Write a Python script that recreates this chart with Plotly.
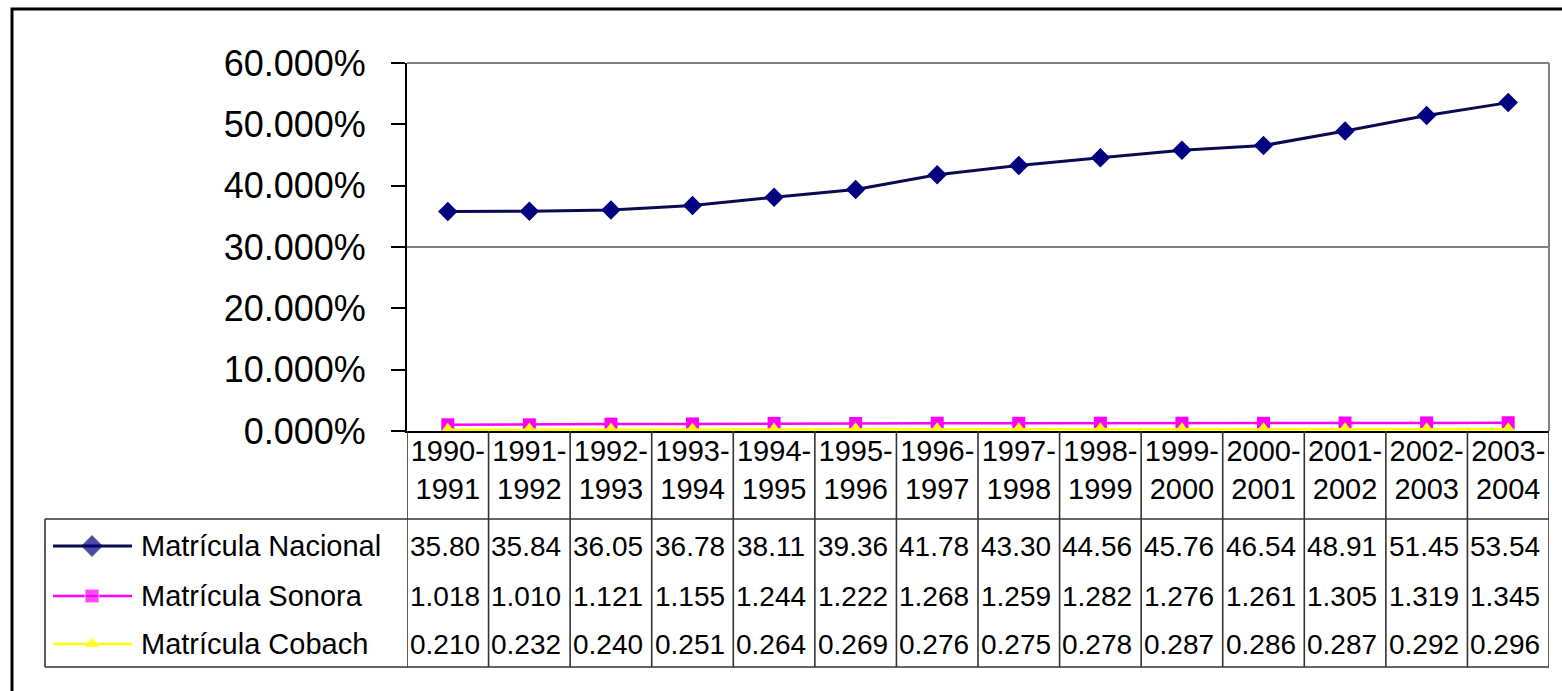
import plotly.graph_objects as go

# ---------------- data ----------------
categories = ["1990-1991", "1991-1992", "1992-1993", "1993-1994", "1994-1995",
              "1995-1996", "1996-1997", "1997-1998", "1998-1999", "1999-2000",
              "2000-2001", "2001-2002", "2002-2003", "2003-2004"]
nacional = [35.80, 35.84, 36.05, 36.78, 38.11, 39.36, 41.78, 43.30, 44.56, 45.76,
            46.54, 48.91, 51.45, 53.54]
sonora = [1.018, 1.010, 1.121, 1.155, 1.244, 1.222, 1.268, 1.259, 1.282, 1.276,
          1.261, 1.305, 1.319, 1.345]
cobach = [0.210, 0.232, 0.240, 0.251, 0.264, 0.269, 0.276, 0.275, 0.278, 0.287,
          0.286, 0.287, 0.292, 0.296]
series_names = ["Matrícula Nacional", "Matrícula Sonora", "Matrícula Cobach"]
y_ticks = [0, 10, 20, 30, 40, 50, 60]
y_tick_labels = ["0.000%", "10.000%", "20.000%", "30.000%", "40.000%", "50.000%", "60.000%"]

# ---------------- styles ----------------
W, H = 1562, 691
FONT = "Liberation Sans, Arial, sans-serif"
styles = [
    dict(color="#000080", line="#0a0a50", symbol="diamond", size=15, width=3, fmt="{:.2f}"),
    dict(color="#FF00FF", line="#FF00FF", symbol="square", size=13, width=2.5, fmt="{:.3f}"),
    dict(color="#FFFF00", line="#FFFF00", symbol="triangle-up", size=14, width=2.5, fmt="{:.3f}"),
]
series = [nacional, sonora, cobach]

def px(x):
    return x / W

def py(y):
    return 1 - y / H

PL, PR, PT, PB = 407, 1549, 63, 431   # plot area in pixels
TABLE_TOP, TABLE_BOT, TABLE_LEFT = 519, 667, 45
ROW_Y = [546, 596, 644]

fig = go.Figure()
xs = list(range(len(categories)))

for s, st, name in zip(series, styles, series_names):
    fig.add_trace(go.Scatter(
        x=xs, y=s, name=name, mode="lines+markers",
        line=dict(color=st["line"], width=st["width"]),
        marker=dict(symbol=st["symbol"], size=st["size"], color=st["color"]),
        cliponaxis=False, showlegend=False, xaxis="x", yaxis="y",
    ))

# legend samples inside the data table (pixel overlay axes)
for i, st in enumerate(styles):
    fig.add_trace(go.Scatter(
        x=[53, 92, 132], y=[ROW_Y[i]] * 3, mode="lines+markers",
        line=dict(color=st["line"], width=st["width"]),
        marker=dict(symbol=st["symbol"], size=[0, st["size"] + 1, 0], color=st["color"]),
        showlegend=False, xaxis="x2", yaxis="y2", hoverinfo="skip",
    ))

shapes = []
# outer chart border
shapes.append(dict(type="rect", xref="x2", yref="y2", x0=12, x1=1600, y0=9, y1=760,
                   line=dict(color="black", width=3), layer="above"))
# plot area top / right border (gray)
shapes.append(dict(type="line", xref="x2", yref="y2", x0=PL, x1=PR, y0=PT, y1=PT,
                   line=dict(color="#808080", width=2)))
shapes.append(dict(type="line", xref="x2", yref="y2", x0=PR, x1=PR, y0=PT, y1=PB,
                   line=dict(color="#808080", width=2)))
# gridline at 30%
shapes.append(dict(type="line", xref="x domain", yref="y", x0=0, x1=1, y0=30, y1=30,
                   line=dict(color="black", width=1.2), layer="below"))
# table vertical lines at category boundaries
for i in range(len(categories) + 1):
    shapes.append(dict(type="line", xref="x", yref="y2", x0=i - 0.5, x1=i - 0.5,
                       y0=PB, y1=TABLE_BOT, line=dict(color="#333333", width=1.6)))
# table horizontal lines & left edge
for yy in (TABLE_TOP, TABLE_BOT):
    shapes.append(dict(type="line", xref="x2", yref="y2", x0=TABLE_LEFT, x1=PR,
                       y0=yy, y1=yy, line=dict(color="#333333", width=1.6)))
shapes.append(dict(type="line", xref="x2", yref="y2", x0=TABLE_LEFT, x1=TABLE_LEFT,
                   y0=TABLE_TOP, y1=TABLE_BOT, line=dict(color="#333333", width=1.6)))

annotations = []
for r, (s, st, name) in enumerate(zip(series, styles, series_names)):
    annotations.append(dict(xref="x2", yref="y2", x=139, y=ROW_Y[r], text=name,
                            showarrow=False, xanchor="left", yanchor="middle",
                            font=dict(family=FONT, size=29, color="black")))
    for i, v in enumerate(s):
        annotations.append(dict(xref="x", yref="y2", x=i, y=ROW_Y[r],
                                text=st["fmt"].format(v), showarrow=False,
                                xanchor="center", yanchor="middle", xshift=-3,
                                font=dict(family=FONT, size=28, color="black")))

fig.update_layout(
    width=W, height=H, autosize=False,
    margin=dict(l=0, r=0, t=0, b=0, pad=0),
    paper_bgcolor="white", plot_bgcolor="rgba(0,0,0,0)",
    shapes=shapes, annotations=annotations,
    xaxis=dict(
        domain=[px(PL), px(PR)], range=[-0.5, len(categories) - 0.5],
        tickmode="array", tickvals=xs,
        ticktext=[c.replace("-", "-<br>") for c in categories],
        tickangle=0, ticks="", showgrid=False, zeroline=False,
        ticklabelstandoff=-7,
        showline=True, linecolor="black", linewidth=2,
        tickfont=dict(family=FONT, size=29, color="black"),
        anchor="y", fixedrange=True, automargin=False,
    ),
    yaxis=dict(
        domain=[py(PB), py(PT)], range=[0, 60],
        tickmode="array", tickvals=y_ticks, ticktext=y_tick_labels,
        ticks="outside", ticklen=14, tickcolor="black", tickwidth=1.5,
        ticklabelstandoff=18,
        showgrid=False, zeroline=False,
        showline=True, linecolor="black", linewidth=2,
        tickfont=dict(family=FONT, size=36, color="black"),
        anchor="x", fixedrange=True, automargin=False,
    ),
    xaxis2=dict(domain=[0, 1], range=[0, W], visible=False, anchor="y2",
                fixedrange=True, automargin=False),
    yaxis2=dict(domain=[0, 1], range=[H, 0], visible=False, anchor="x2",
                fixedrange=True, automargin=False),
)

fig.write_html("out.html", config={"displayModeBar": False},
               post_script="document.body.style.margin='0';document.body.style.overflow='hidden';")
